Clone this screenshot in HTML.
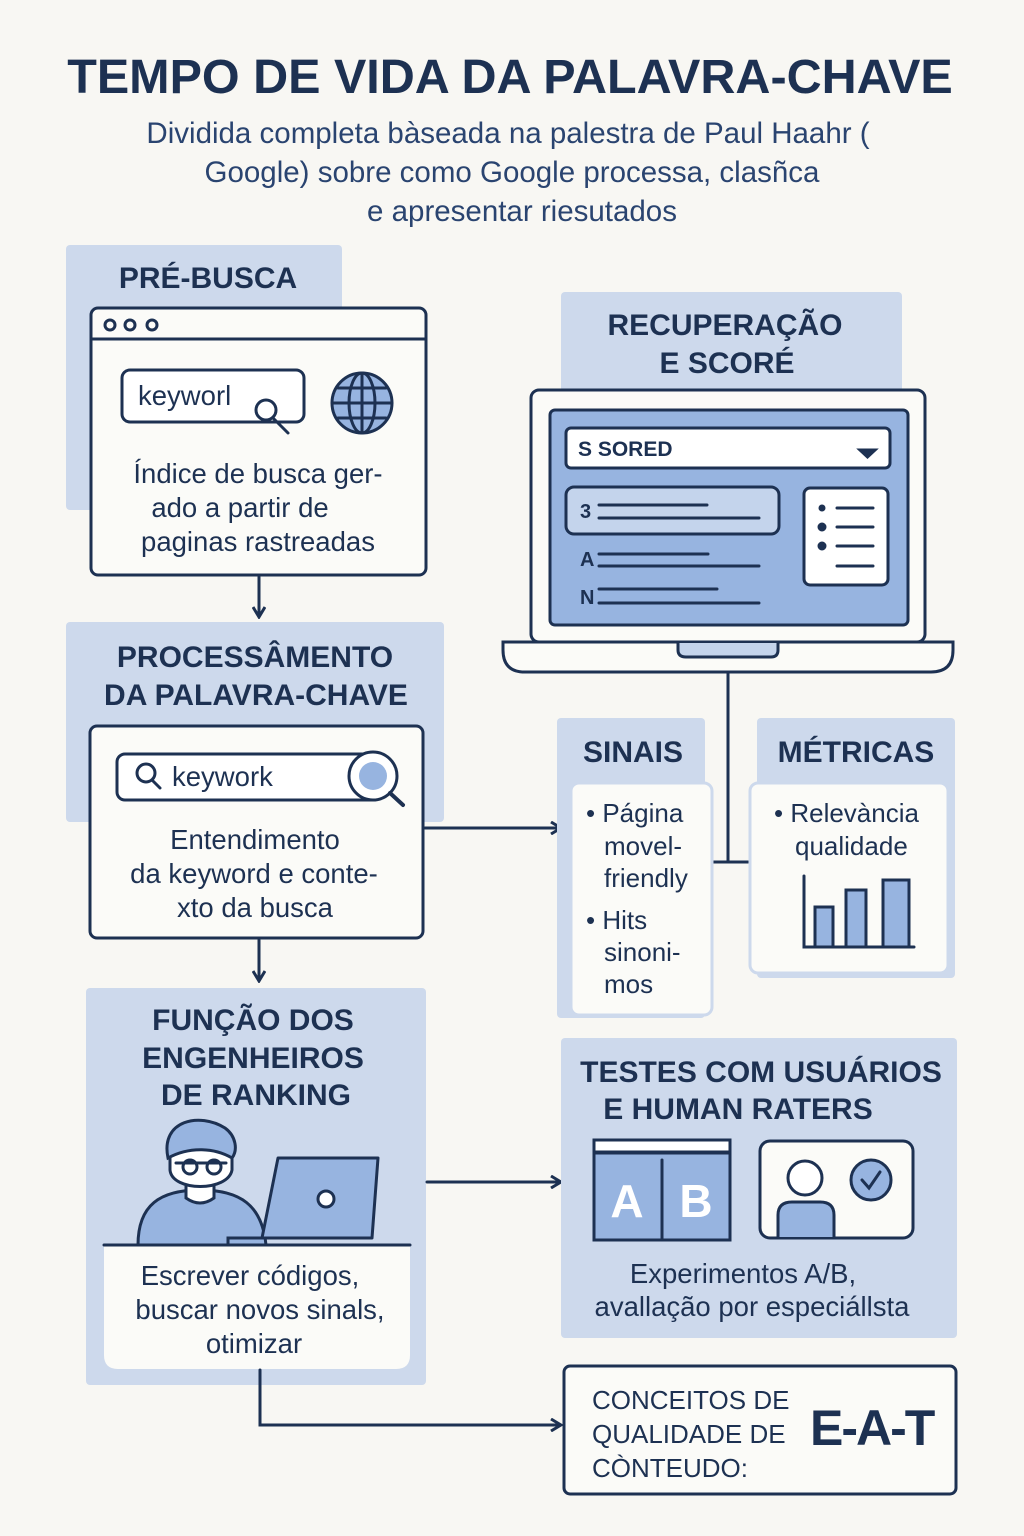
<!DOCTYPE html>
<html><head><meta charset="utf-8"><style>
html,body{margin:0;padding:0;background:#f8f7f3}
svg{display:block}
text{font-family:"Liberation Sans",sans-serif;fill:#1d3152}
.h{font-weight:bold;font-size:30px}
.b{font-size:26px}
.c{font-size:27.5px}
</style></head><body>
<svg width="1024" height="1536" viewBox="0 0 1024 1536" xmlns="http://www.w3.org/2000/svg">
<defs><marker id="ar" markerWidth="14" markerHeight="14" refX="11" refY="7" orient="auto" markerUnits="userSpaceOnUse"><path d="M2 1 L12 7 L2 13" fill="none" stroke="#1d3152" stroke-width="3"/></marker></defs>
<rect width="1024" height="1536" fill="#f8f7f3"/>
<text x="510" y="93" text-anchor="middle" font-weight="bold" font-size="48.5">TEMPO DE VIDA DA PALAVRA-CHAVE</text>
<g font-size="29.5" text-anchor="middle">
<text x="508" y="143" style="fill:#2a4470">Dividida completa bàseada na palestra de Paul Haahr (</text>
<text x="512" y="182" style="fill:#2a4470">Google) sobre como Google processa, clasñca</text>
<text x="522" y="221" style="fill:#2a4470">e apresentar riesutados</text></g>

<g stroke="#1d3152" stroke-width="3" fill="none" stroke-linecap="round">
<rect x="66" y="245" width="276" height="265" rx="4" fill="#cdd9ec" stroke="none"/>
<rect x="91" y="308" width="335" height="267" rx="7" fill="#fbfbf8"/>
<line x1="91" y1="339" x2="426" y2="339"/>
<circle cx="110" cy="325" r="5"/><circle cx="130" cy="325" r="5"/><circle cx="152" cy="325" r="5"/>
<rect x="122" y="370" width="182" height="52" rx="8" fill="#fff"/>
<circle cx="266" cy="410" r="10" fill="#fff"/><line x1="273" y1="418" x2="288" y2="433"/>
<circle cx="362" cy="403" r="30" fill="#97b4e0"/><ellipse cx="362" cy="403" rx="13" ry="30"/><line x1="332" y1="403" x2="392" y2="403"/><path d="M338 388 H386 M338 418 H386"/><line x1="362" y1="373" x2="362" y2="433"/>
<line x1="259" y1="577" x2="259" y2="616" marker-end="url(#ar)"/>
<rect x="66" y="622" width="378" height="200" rx="4" fill="#cdd9ec" stroke="none"/>
<rect x="90" y="726" width="333" height="212" rx="7" fill="#fbfbf8"/>
<rect x="117" y="754" width="262" height="46" rx="8" fill="#fff"/>
<circle cx="146" cy="773" r="9"/><line x1="152" y1="780" x2="160" y2="788"/>
<circle cx="373" cy="776" r="24" fill="#fff"/><circle cx="373" cy="776" r="14" fill="#97b4e0" stroke="none"/><line x1="390" y1="793" x2="403" y2="805" stroke-width="4"/>
<line x1="259" y1="940" x2="259" y2="980" marker-end="url(#ar)"/>
<line x1="425" y1="828" x2="560" y2="828" marker-end="url(#ar)"/>
<rect x="86" y="988" width="340" height="397" rx="4" fill="#cdd9ec" stroke="none"/>
<path d="M138 1245 C138 1205 160 1190 200 1190 C240 1190 262 1205 266 1245 Z" fill="#97b4e0"/>
<path d="M186 1180 L186 1198 Q200 1208 214 1198 L214 1180" fill="#fff"/>
<path d="M170 1150 C170 1128 230 1128 232 1150 L232 1170 C228 1192 172 1192 170 1170 Z" fill="#fff"/>
<path d="M168 1158 C160 1120 200 1112 225 1128 C236 1136 238 1150 232 1158 C215 1148 190 1146 168 1158Z" fill="#97b4e0"/>
<circle cx="190" cy="1167" r="7" fill="#fff"/><circle cx="214" cy="1167" r="7" fill="#fff"/><line x1="176" y1="1163" x2="226" y2="1163"/>
<path d="M278 1158 L378 1158 L372 1238 L262 1238 Z" fill="#97b4e0" stroke-linejoin="round"/>
<circle cx="326" cy="1199" r="8" fill="#fff"/>
<path d="M228 1245 L228 1238 L268 1238"/>
<path d="M104 1245 H410 V1355 Q410 1369 396 1369 H118 Q104 1369 104 1355 Z" fill="#fbfbf8" stroke="none"/>
<line x1="104" y1="1245" x2="410" y2="1245"/>
<path d="M260 1370 V1425 H560" marker-end="url(#ar)"/>
<line x1="427" y1="1182" x2="560" y2="1182" marker-end="url(#ar)"/>
<rect x="561" y="292" width="341" height="100" rx="4" fill="#cdd9ec" stroke="none"/>
<rect x="531" y="390" width="394" height="252" rx="8" fill="#fbfbf8"/>
<rect x="550" y="410" width="358" height="215" rx="5" fill="#97b4e0"/>
<rect x="566" y="428" width="324" height="40" rx="5" fill="#fff"/>
<path d="M860 450 L875 450 L867.5 457 Z" fill="#1d3152"/>
<rect x="566" y="487" width="213" height="47" rx="8" fill="#c4d4ec"/>
<path d="M599 505 H707 M599 518 H759 M599 554 H708 M599 566 H759 M599 589 H717 M599 603 H759"/>
<rect x="804" y="488" width="84" height="97" rx="6" fill="#fff"/>
<path d="M837 508 H873 M837 527 H873 M837 546 H873 M837 566 H873"/>
<circle cx="822" cy="527" r="3" fill="#1d3152"/><circle cx="822" cy="546" r="3" fill="#1d3152"/><circle cx="822" cy="508" r="2" fill="#1d3152"/>
<path d="M503 642 H953 V650 Q953 672 931 672 H525 Q503 672 503 650 Z" fill="#fbfbf8"/>
<path d="M678 643 V650 Q678 657 686 657 H771 Q778 657 778 650 V643" fill="#c4d4ec"/>
<path d="M728 673 V862 M713 862 H748"/>
<rect x="557" y="718" width="148" height="300" rx="4" fill="#cdd9ec" stroke="none"/>
<rect x="571" y="783" width="141" height="232" rx="8" fill="#fbfbf8" stroke="#cdd9ec"/>
<rect x="757" y="718" width="198" height="260" rx="4" fill="#cdd9ec" stroke="none"/>
<rect x="750" y="783" width="198" height="190" rx="8" fill="#fbfbf8" stroke="#cdd9ec"/>
<path d="M804 876 V947 H914"/>
<rect x="815" y="907" width="18" height="40" fill="#97b4e0"/><rect x="846" y="890" width="20" height="57" fill="#97b4e0"/><rect x="883" y="880" width="26" height="67" fill="#97b4e0"/>
<rect x="561" y="1038" width="396" height="300" rx="4" fill="#cdd9ec" stroke="none"/>
<rect x="594" y="1140" width="136" height="100" fill="#97b4e0"/>
<rect x="594" y="1140" width="136" height="12" fill="#fff"/>
<line x1="594" y1="1153" x2="730" y2="1153"/><line x1="662" y1="1160" x2="662" y2="1240"/>
<rect x="760" y="1141" width="153" height="97" rx="10" fill="#fbfbf8"/>
<circle cx="805" cy="1178" r="17" fill="#fff"/>
<path d="M778 1237 V1215 Q778 1202 792 1202 H820 Q834 1202 834 1215 V1237" fill="#97b4e0"/>
<circle cx="871" cy="1180" r="20" fill="#97b4e0"/><path d="M862 1180 L869 1188 L880 1172"/>
<rect x="564" y="1366" width="392" height="128" rx="6" fill="#fbfbf8"/>
</g>
<text x="208" y="288" text-anchor="middle" class="h">PRÉ-BUSCA</text>
<text x="138" y="405" class="c">keyworl</text>
<g class="c" text-anchor="middle">
<text x="258" y="483">Índice de busca ger-</text>
<text x="240" y="517">ado a partir de</text>
<text x="258" y="551">paginas rastreadas</text>
<text x="255" y="849">Entendimento</text>
<text x="254" y="883">da keyword e conte-</text>
<text x="255" y="917">xto da busca</text>
<text x="250" y="1285">Escrever códigos,</text>
<text x="260" y="1319">buscar novos sinals,</text>
<text x="254" y="1353">otimizar</text>
<text x="743" y="1283">Experimentos A/B,</text>
<text x="752" y="1316">avallação por especiállsta</text>
</g>
<text x="172" y="786" class="c">keywork</text>
<g class="h" text-anchor="middle">
<text x="255" y="667">PROCESSÂMENTO</text>
<text x="256" y="705">DA PALAVRA-CHAVE</text>
<text x="253" y="1030">FUNÇÃO DOS</text>
<text x="253" y="1068">ENGENHEIROS</text>
<text x="256" y="1105">DE RANKING</text>
<text x="725" y="335">RECUPERAÇÃO</text>
<text x="727" y="373">E SCORÉ</text>
<text x="633" y="762">SINAIS</text>
<text x="856" y="762">MÉTRICAS</text>
<text x="761" y="1082">TESTES COM USUÁRIOS</text>
<text x="738" y="1119">E HUMAN RATERS</text>
</g>
<text x="578" y="456" font-weight="bold" font-size="21">S  SORED</text>
<g font-weight="bold" font-size="20"><text x="580" y="518">3</text><text x="580" y="566">A</text><text x="580" y="604">N</text></g>
<g class="b">
<text x="586" y="822">• Página</text><text x="604" y="855">movel-</text><text x="604" y="887">friendly</text>
<text x="586" y="929">• Hits</text><text x="604" y="961">sinoni-</text><text x="604" y="993">mos</text>
<text x="774" y="822">• Relevància</text><text x="795" y="855">qualidade</text>
<text x="592" y="1409">CONCEITOS DE</text><text x="592" y="1443">QUALIDADE DE</text><text x="592" y="1477">CÒNTEUDO:</text>
</g>
<text x="627" y="1217" text-anchor="middle" font-weight="bold" font-size="46" style="fill:#fff">A</text>
<text x="696" y="1217" text-anchor="middle" font-weight="bold" font-size="46" style="fill:#fff">B</text>
<text x="810" y="1445" font-weight="bold" font-size="50" letter-spacing="-2">E-A-T</text>
</svg>
</body></html>
